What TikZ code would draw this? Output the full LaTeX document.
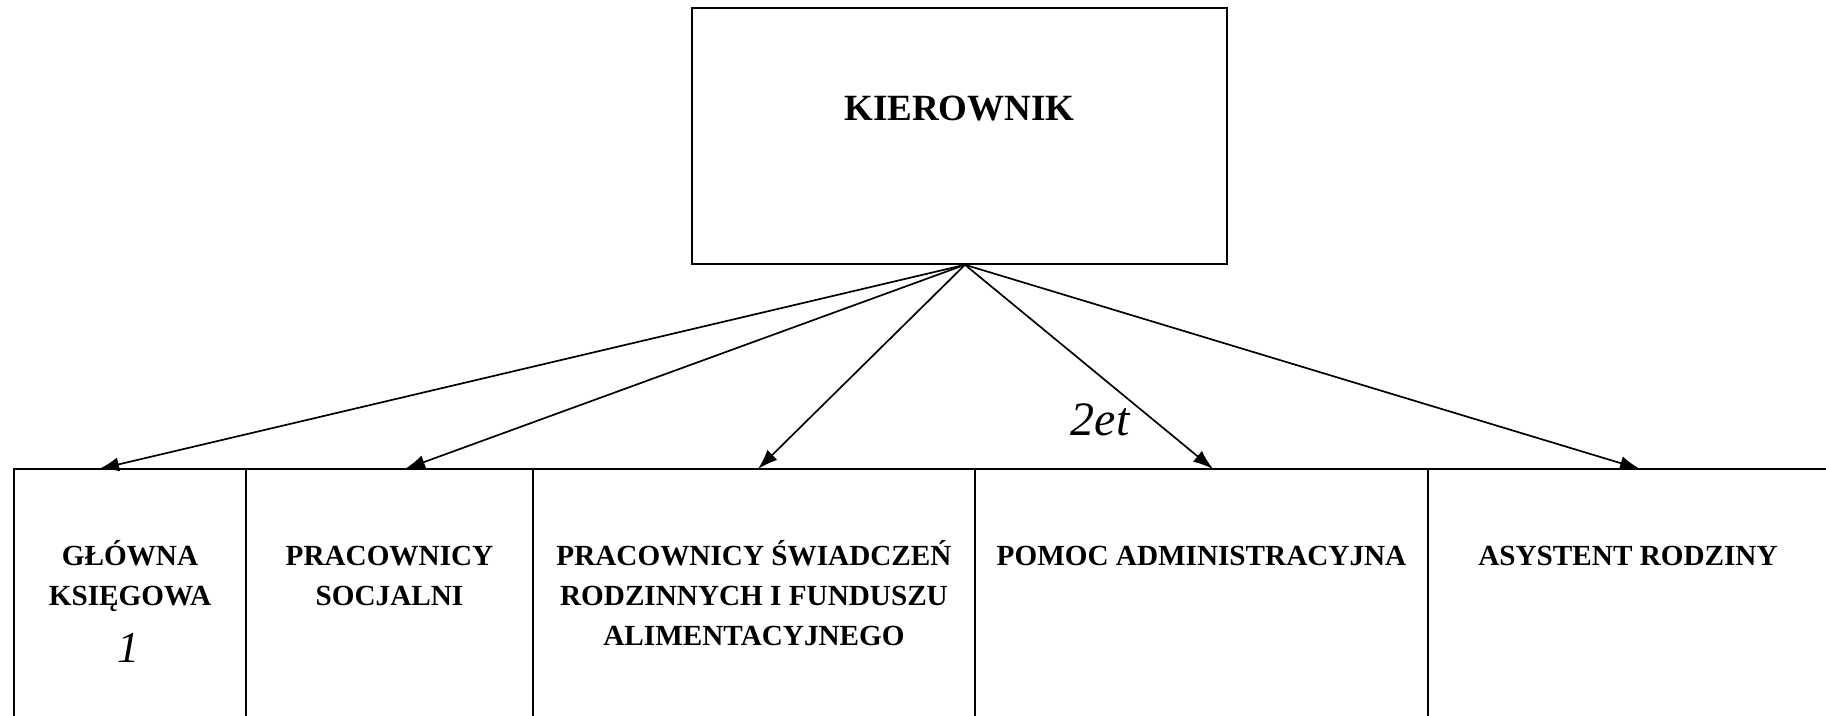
\documentclass[tikz,border=0pt]{standalone}
\usepackage{fontspec}
\setmainfont{Liberation Serif}
\usetikzlibrary{positioning,arrows.meta}

\tikzset{
  unit/.style={rectangle, draw, line width=0.8pt, minimum height=150pt, inner sep=0pt, outer sep=0pt},
  unitname/.style={anchor=base, yshift=-48.2pt, align=center, inner sep=0pt,
    font=\fontsize{14.6}{19.9}\selectfont\bfseries},
  subord/.style={-{Latex[length=10pt,width=7pt]}, line width=0.85pt},
  hand/.style={font=\fontsize{24}{24}\selectfont\itshape, inner sep=0pt}
}

\begin{document}
\begin{tikzpicture}[x=0.5pt, y=-0.5pt]
  \useasboundingbox (0,0) rectangle (1826,716);
  \clip (0,0) rectangle (1826,716);
  \node[rectangle, draw, line width=0.8pt, minimum width=267.5pt, minimum height=128pt,
    label={[anchor=base, yshift=-56.8pt, inner sep=0pt, font=\fontsize{18.5}{22}\selectfont\bfseries]north:KIEROWNIK}] (kier) at (959.5,136) {};
  \coordinate (top) at ([xshift=2.75pt]kier.south);
  % dolny rzad
  \node[unit, minimum width=116pt, anchor=north west,
    label={[unitname, yshift=-19.9pt]north:GŁÓWNA\\KSIĘGOWA}] (ksieg) at (14,469) {};
  \node[unit, minimum width=143.5pt, right=0pt of ksieg,
    label={[unitname, yshift=-19.9pt]north:PRACOWNICY\\SOCJALNI}] (socj) {};
  \node[unit, minimum width=221pt, right=0pt of socj,
    label={[unitname, yshift=-39.8pt]north:PRACOWNICY ŚWIADCZEŃ\\RODZINNYCH I FUNDUSZU\\ALIMENTACYJNEGO}] (swiad) {};
  \node[unit, minimum width=226.5pt, right=0pt of swiad,
    label={[unitname]north:POMOC ADMINISTRACYJNA}] (pomoc) {};
  \node[unit, minimum width=200pt, right=0pt of pomoc,
    label={[unitname]north:ASYSTENT RODZINY}] (asyst) {};
  % strzalki
  \draw[subord] (top) -- ([xshift=-15.5pt]ksieg.north);
  \draw[subord] (top) -- ([xshift=7.75pt]socj.north);
  \draw[subord] (top) -- ([xshift=2pt]swiad.north);
  \draw[subord] (top) -- ([xshift=5.75pt]pomoc.north);
  \draw[subord] (top) -- ([xshift=6pt]asyst.north);
  % dopiski
  \node[hand] (etaty) at (1100,420) {2et};
  \node[hand, font=\fontsize{22}{22}\selectfont\itshape] (jeden) at (128,648) {1};
\end{tikzpicture}
\end{document}
